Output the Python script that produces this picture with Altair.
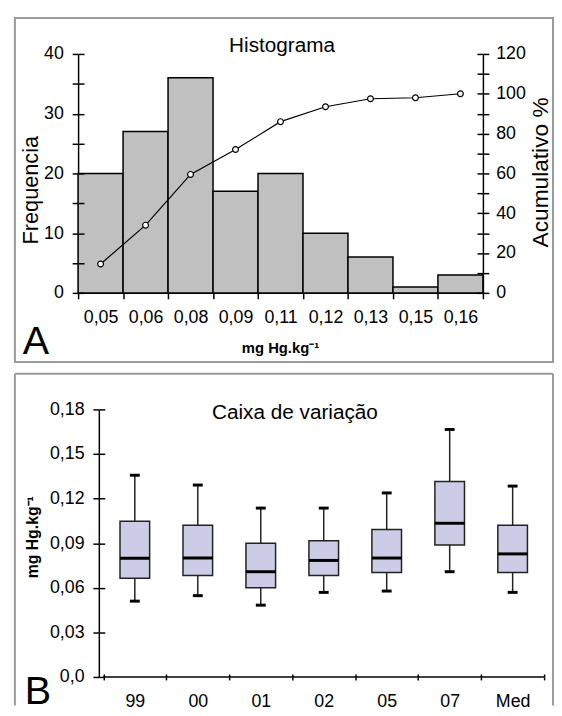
import json
import altair as alt
import pandas as pd

FONT = "Liberation Sans"

# ---------------- Panel A data (histogram) ----------------
hist_labels = ["0,05", "0,06", "0,08", "0,09", "0,11", "0,12", "0,13", "0,15", "0,16"]
frequencia = [20, 27, 36, 17, 20, 10, 6, 1, 3]
acumulado = [14.5, 34, 59.5, 72, 86, 93.5, 97.5, 98, 100]

# ---------------- Panel B data (box plots) ----------------
box_cats = ["99", "00", "01", "02", "05", "07", "Med"]
box_min = [0.0510, 0.0547, 0.0483, 0.0569, 0.0578, 0.0708, 0.0569]
box_q1 = [0.0664, 0.0682, 0.0600, 0.0682, 0.0702, 0.0888, 0.0702]
box_med = [0.0799, 0.0800, 0.0708, 0.0784, 0.0800, 0.1034, 0.0828]
box_q3 = [0.1047, 0.1021, 0.0899, 0.0917, 0.0992, 0.1315, 0.1021]
box_max = [0.1357, 0.1291, 0.1136, 0.1136, 0.1238, 0.1665, 0.1284]

FRAME = "#9a9a9a"
LABEL_SIZE = 18
one = pd.DataFrame({"k": [0]})

# ======================= Panel A =======================
WA, HA = 410, 242
n = len(hist_labels)
dfA = pd.DataFrame({"i": list(range(n)), "freq": frequencia, "cum": acumulado})
dfA["x0"] = dfA["i"]
dfA["x1"] = dfA["i"] + 1
dfA["xc"] = dfA["i"] + 0.5

xA = alt.Scale(domain=[0, n], nice=False, zero=False)
yF = alt.Scale(domain=[0, 40], nice=False)
yC = alt.Scale(domain=[0, 120], nice=False)
labA = json.dumps(hist_labels).replace('"', "'")

xA_axis = alt.Axis(
    orient="bottom",
    values=[k / 2 for k in range(2 * n + 1)],
    labelExpr=f"datum.value % 1 == 0 ? '' : {labA}[floor(datum.value)]",
    tickOpacity={"condition": {"test": "datum.value % 1 == 0", "value": 1}, "value": 0},
    tickSize=6, labelPadding=10, title=None, grid=False,
    labelFlush=False, labelOverlap=False, labelFontSize=LABEL_SIZE,
)

frameA = alt.Chart(one).mark_rect(
    fill="transparent", stroke=FRAME, strokeWidth=2
).encode(x=alt.value(-64), x2=alt.value(481), y=alt.value(-36.3), y2=alt.value(312))

bars = alt.Chart(dfA).mark_rect(fill="#C0C0C0", stroke="black", strokeWidth=1.5).encode(
    x=alt.X("x0:Q", scale=xA, axis=xA_axis),
    x2="x1:Q",
    y=alt.Y("freq:Q", scale=yF, axis=alt.Axis(
        orient="left", values=list(range(0, 41, 5)),
        labelExpr="datum.value % 10 == 0 ? datum.label : ''",
        tickSize=6, labelPadding=9, grid=False, labelFontSize=LABEL_SIZE,
        title="Frequencia", titleX=-48.5, titleY=137.5, titleAngle=270,
        titleBaseline="middle", titleAlign="center", titleFontSize=22,
        titleFontWeight="normal")),
    y2=alt.Y2Datum(0),
)

innerL = alt.Chart(dfA).mark_point(opacity=0).encode(
    x=alt.X("xc:Q", scale=xA, axis=None),
    y=alt.Y("freq:Q", scale=yF, axis=alt.Axis(
        orient="left", offset=-6, values=list(range(0, 41, 5)), labels=False,
        domain=False, tickSize=6, title=None, grid=False, zindex=1)),
)

line = alt.Chart(dfA).mark_line(color="black", strokeWidth=1.2).encode(
    x=alt.X("xc:Q", scale=xA, axis=None),
    y=alt.Y("cum:Q", scale=yC, axis=alt.Axis(
        orient="right", values=list(range(0, 121, 10)),
        labelExpr="datum.value % 20 == 0 ? datum.label : ''",
        tickSize=6, labelPadding=7, grid=False, labelFontSize=LABEL_SIZE,
        title="Acumulativo %", titleX=58, titleY=119.5, titleAngle=270,
        titleBaseline="middle", titleAlign="center", titleFontSize=23,
        titleFontWeight="normal")),
)

points = alt.Chart(dfA).mark_point(
    shape="circle", filled=True, fill="white", stroke="black", strokeWidth=1.2,
    size=35, opacity=1
).encode(
    x=alt.X("xc:Q", scale=xA, axis=None),
    y=alt.Y("cum:Q", scale=yC, axis=None),
)

innerR = alt.Chart(dfA).mark_point(opacity=0).encode(
    x=alt.X("xc:Q", scale=xA, axis=None),
    y=alt.Y("cum:Q", scale=yC, axis=alt.Axis(
        orient="right", offset=-6, values=list(range(0, 121, 10)), labels=False,
        domain=False, tickSize=6, title=None, grid=False, zindex=1)),
)

titleA = alt.Chart(pd.DataFrame({"t": ["Histograma"]})).mark_text(
    font=FONT, fontSize=21, align="center", baseline="middle", color="black"
).encode(text="t:N", x=alt.value(206.6), y=alt.value(-8))

xtitleA = alt.Chart(pd.DataFrame({"t": ["mg Hg.kg\u207b\u00b9"]})).mark_text(
    font=FONT, fontSize=15, fontWeight="bold", align="center", baseline="middle", color="black"
).encode(text="t:N", x=alt.value(205), y=alt.value(298))

letterA = alt.Chart(pd.DataFrame({"t": ["A"]})).mark_text(
    font=FONT, fontSize=40, align="left", baseline="alphabetic", color="black"
).encode(text="t:N", x=alt.value(-56), y=alt.value(304))

panelA = alt.layer(
    frameA, bars, innerL, line, points, innerR, titleA, xtitleA, letterA
).resolve_scale(y="independent").resolve_axis(x="independent", y="independent").properties(
    width=WA, height=HA)

# ======================= Panel B =======================
# Plot origin of panel B is shared with panel A; the B axes start SHIFT px further right.
SHIFT = 21
BAND_W = 456
HB = 271
m = len(box_cats)
band = BAND_W / m
WB = BAND_W + SHIFT
dfB = pd.DataFrame({
    "cat": box_cats, "pos": [k + 0.5 for k in range(m)],
    "mn": box_min, "q1": box_q1, "med": box_med, "q3": box_q3, "mx": box_max,
})
xB = alt.Scale(domain=[-SHIFT / band, m], nice=False, zero=False)
yB = alt.Scale(domain=[0, 0.18], nice=False)
labB = json.dumps(box_cats).replace('"', "'")
yvals = [round(0.03 * k, 2) for k in range(7)]

xB_axis = alt.Axis(
    orient="bottom",
    values=[k / 2 for k in range(2 * m + 1)],
    labelExpr=f"datum.value % 1 == 0 ? '' : {labB}[floor(datum.value)]",
    tickOpacity={"condition": {"test": "datum.value % 1 == 0", "value": 1}, "value": 0},
    tickSize=3, labelPadding=13, title=None, grid=False, domain=False,
    labelFlush=False, labelOverlap=False, labelFontSize=LABEL_SIZE,
)
yB_axis = alt.Axis(
    orient="left", offset=-SHIFT, values=yvals,
    labelExpr="datum.value == 0 ? '0,0' : replace(format(datum.value, '.2f'), '.', ',')",
    tickSize=6, labelPadding=9, grid=False, labelFontSize=LABEL_SIZE,
    title="mg Hg.kg\u207b\u00b9", titleX=-67, titleY=129, titleAngle=270,
    titleBaseline="middle", titleAlign="center", titleFontSize=16,
    titleFontWeight="bold",
)

fB_left = alt.Chart(one).mark_rule(color=FRAME, strokeWidth=2).encode(
    x=alt.value(-64), y=alt.value(-36), y2=alt.value(300))
fB_top = alt.Chart(one).mark_rule(color=FRAME, strokeWidth=2).encode(
    x=alt.value(-64), x2=alt.value(481), y=alt.value(-36))
fB_right = alt.Chart(one).mark_rule(color=FRAME, strokeWidth=2).encode(
    x=alt.value(481), y=alt.value(-36), y2=alt.value(300))

xline = alt.Chart(one).mark_rule(color="black", strokeWidth=1.5).encode(
    x=alt.X(datum=0, scale=xB, axis=None), x2=alt.X2Datum(m),
    y=alt.Y(datum=0, scale=yB, axis=None))

whisk = alt.Chart(dfB).mark_rule(color="#222", strokeWidth=1.5).encode(
    x=alt.X("pos:Q", scale=xB, axis=xB_axis),
    y=alt.Y("mn:Q", scale=yB, axis=yB_axis),
    y2="mx:Q",
)
boxes = alt.Chart(dfB).mark_bar(size=30, fill="#CCCCE6", stroke="#222", strokeWidth=1.5).encode(
    x=alt.X("pos:Q", scale=xB, axis=None),
    y=alt.Y("q1:Q", scale=yB, axis=None),
    y2="q3:Q",
)
medians = alt.Chart(dfB).mark_tick(orient="horizontal", size=30, thickness=3, color="black", opacity=1).encode(
    x=alt.X("pos:Q", scale=xB, axis=None),
    y=alt.Y("med:Q", scale=yB, axis=None),
)
capLo = alt.Chart(dfB).mark_tick(orient="horizontal", size=10, thickness=3, color="black", opacity=1).encode(
    x=alt.X("pos:Q", scale=xB, axis=None),
    y=alt.Y("mn:Q", scale=yB, axis=None),
)
capHi = alt.Chart(dfB).mark_tick(orient="horizontal", size=10, thickness=3, color="black", opacity=1).encode(
    x=alt.X("pos:Q", scale=xB, axis=None),
    y=alt.Y("mx:Q", scale=yB, axis=None),
)
innerB = alt.Chart(dfB).mark_point(opacity=0).encode(
    x=alt.X("pos:Q", scale=xB, axis=alt.Axis(
        orient="bottom", offset=-3, values=list(range(m + 1)), labels=False,
        domain=False, tickSize=3, title=None, grid=False, zindex=1)),
    y=alt.Y("med:Q", scale=yB, axis=alt.Axis(
        orient="left", offset=-SHIFT - 6, values=yvals, labels=False,
        domain=False, tickSize=6, title=None, grid=False, zindex=1)),
)

titleB = alt.Chart(pd.DataFrame({"t": ["Caixa de variação"]})).mark_text(
    font=FONT, fontSize=21, align="center", baseline="middle", color="black"
).encode(text="t:N", x=alt.value(219.6), y=alt.value(3.7))

letterB = alt.Chart(pd.DataFrame({"t": ["B"]})).mark_text(
    font=FONT, fontSize=40, align="left", baseline="alphabetic", color="black"
).encode(text="t:N", x=alt.value(-54), y=alt.value(298))

panelB = alt.layer(
    fB_left, fB_top, fB_right, xline, whisk, boxes, medians, capLo, capHi, innerB, titleB, letterB
).resolve_axis(x="independent", y="independent").properties(width=WB, height=HB)

chart = alt.vconcat(panelA, panelB, spacing=10).properties(
    padding={"left": 6, "top": 4, "right": 0, "bottom": 0}
).configure_axis(
    labelFont=FONT, titleFont=FONT, labelColor="black", titleColor="black",
    tickColor="black", domainColor="black", tickWidth=1.5, domainWidth=1.5,
).configure_view(strokeWidth=0)

chart.save("out.html", embed_options={"renderer": "svg", "actions": False})
